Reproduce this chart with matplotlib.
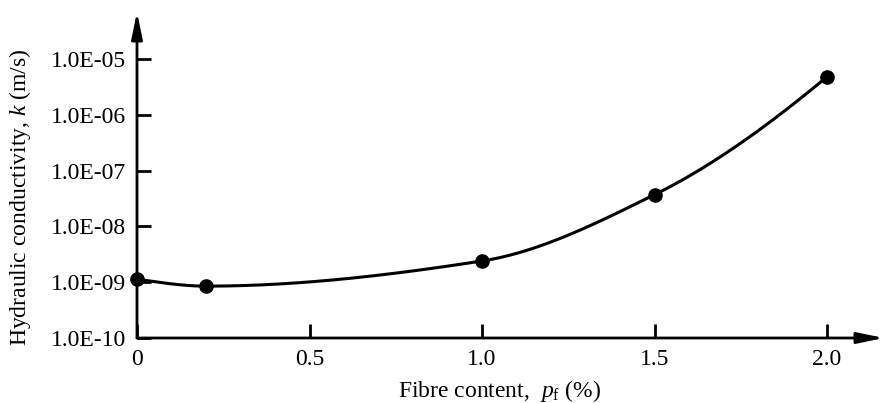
import numpy as np
import matplotlib
matplotlib.use("Agg")
import matplotlib.pyplot as plt
from matplotlib.ticker import FixedLocator, NullLocator

plt.rcParams['font.family'] = ['Liberation Serif', 'DejaVu Serif']
plt.rcParams['mathtext.fontset'] = 'custom'
plt.rcParams['mathtext.rm'] = 'Liberation Serif'
plt.rcParams['mathtext.it'] = 'Liberation Serif:italic'

# fibre content (%) and hydraulic conductivity (m/s)
fibre = [0.0, 0.2, 1.0, 1.5, 2.0]
k_vals = [1.13e-9, 8.5e-10, 2.4e-9, 3.7e-8, 4.8e-6]

x_ticks = [0, 0.5, 1.0, 1.5, 2.0]
x_labels = ["0", "0.5", "1.0", "1.5", "2.0"]
y_ticks = [1e-10, 1e-9, 1e-8, 1e-7, 1e-6, 1e-5]
y_labels = ["1.0E-10", "1.0E-09", "1.0E-08", "1.0E-07", "1.0E-06", "1.0E-05"]


def pchip(x, y, xn):
    # shape preserving cubic through the points (used for the smooth curve)
    x = np.asarray(x, float)
    y = np.asarray(y, float)
    h = np.diff(x)
    d = np.diff(y) / h
    n = len(x)
    m = np.zeros(n)
    for i in range(1, n - 1):
        if d[i - 1] * d[i] > 0:
            w1 = 2 * h[i] + h[i - 1]
            w2 = h[i] + 2 * h[i - 1]
            m[i] = (w1 + w2) / (w1 / d[i - 1] + w2 / d[i])
    m[0] = ((2 * h[0] + h[1]) * d[0] - h[0] * d[1]) / (h[0] + h[1])
    if np.sign(m[0]) != np.sign(d[0]):
        m[0] = 0
    m[-1] = ((2 * h[-1] + h[-2]) * d[-1] - h[-1] * d[-2]) / (h[-1] + h[-2])
    if np.sign(m[-1]) != np.sign(d[-1]):
        m[-1] = 0
    idx = np.clip(np.searchsorted(x, xn) - 1, 0, n - 2)
    t = (xn - x[idx]) / h[idx]
    h00 = 2 * t**3 - 3 * t**2 + 1
    h10 = t**3 - 2 * t**2 + t
    h01 = -2 * t**3 + 3 * t**2
    h11 = t**3 - t**2
    return (h00 * y[idx] + h10 * h[idx] * m[idx]
            + h01 * y[idx + 1] + h11 * h[idx] * m[idx + 1])


fig = plt.figure(figsize=(8.84, 4.03), dpi=100)
ax = fig.add_axes([137 / 884, 65 / 403, 747 / 884, 326 / 403])

xs = np.linspace(fibre[0], fibre[-1], 300)
ys = 10 ** pchip(fibre, np.log10(k_vals), xs)
ax.plot(xs, ys, color='black', lw=2.2, clip_on=False)
ax.plot(fibre, k_vals, 'o', color='black', ms=9.5, clip_on=False, zorder=5)

ax.set_yscale('log')
ax.set_xlim(0, 747 / 345)
ax.set_ylim(1e-10, 10 ** (-10 + 326 / 55.8))

ax.xaxis.set_major_locator(FixedLocator(x_ticks))
ax.set_xticklabels(x_labels)
ax.yaxis.set_major_locator(FixedLocator(y_ticks))
ax.yaxis.set_minor_locator(NullLocator())
ax.set_yticklabels(y_labels)
ax.tick_params(direction='in', length=10, width=2, labelsize=17, pad=8)

for s in ax.spines.values():
    s.set_visible(False)

arrow = dict(arrowstyle='-|>,head_length=1.6,head_width=0.33',
             lw=2, color='black', mutation_scale=10, shrinkA=0, shrinkB=0)
ax.annotate('', xy=(1, 0), xytext=(0, 0), xycoords='axes fraction',
            arrowprops=arrow, annotation_clip=False)
ax.annotate('', xy=(0, 1), xytext=(0, 0), xycoords='axes fraction',
            arrowprops=arrow, annotation_clip=False)

ax.set_ylabel(r'Hydraulic conductivity, $k$ (m/s)', fontsize=17)
ax.set_xlabel(r'Fibre content,  $p_\mathrm{f}$ (%)', fontsize=17)
ax.xaxis.set_label_coords((500 - 137) / 747, -40 / 326)
ax.yaxis.set_label_coords(-104 / 747, (338 - 197) / 326)

fig.savefig("out.png", dpi=100)
